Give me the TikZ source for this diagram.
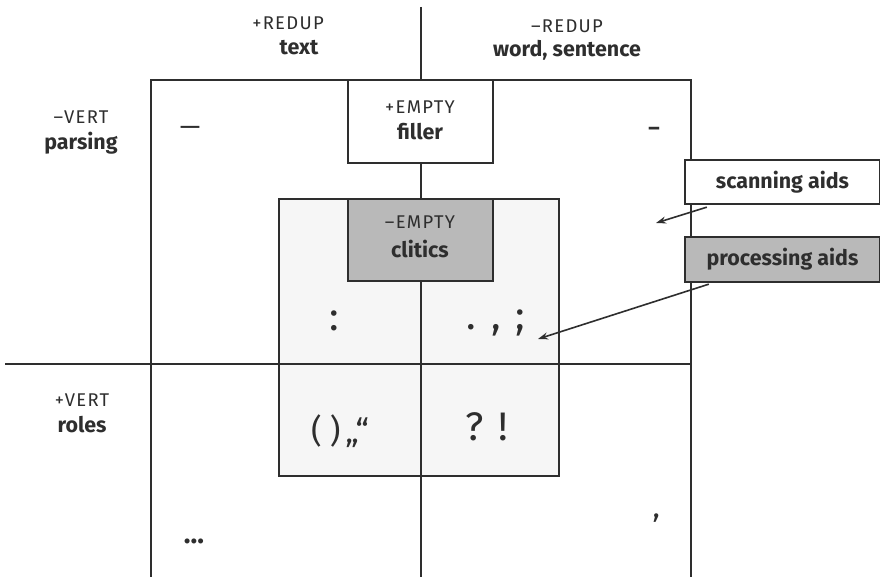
\documentclass[tikz,border=0pt]{standalone}
\usepackage{fontspec}
\setmainfont{Fira Sans}
\usetikzlibrary{arrows.meta}
\definecolor{ink}{HTML}{2E2E2E}
\definecolor{lightfill}{HTML}{F6F6F6}
\definecolor{midfill}{HTML}{B9B9B9}
\tikzset{
  feat/.style={text=ink, font=\fontsize{18.5}{20}\selectfont\addfontfeature{LetterSpace=7}, inner sep=0pt},
  lab/.style={text=ink, font=\fontsize{21.5}{23}\selectfont\bfseries, inner sep=0pt},
  punct/.style={text=ink, font=\fontsize{40}{42}\selectfont, inner sep=0pt},
  boxline/.style={draw=ink, line width=2.3bp},
  whitebox/.style={boxline, fill=white, inner sep=0pt},
  graybox/.style={boxline, fill=midfill, inner sep=0pt},
  arr/.style={draw=ink, line width=1.6bp, -{Stealth[length=10bp,width=7bp]}}
}
\begin{document}
\begin{tikzpicture}[x=1bp,y=-1bp]
\useasboundingbox[fill=white] (0,0) rectangle (880,577);
% inner light box
\node[boxline, fill=lightfill, minimum width=280bp, minimum height=277bp, inner sep=0pt] (inner) at (419,337.5) {};
% outer box (open at bottom)
\draw[boxline] (151,577) -- (151,80) -- (691,80) -- (691,577);
% axes
\coordinate (vtop) at (421,7);
\coordinate (vbot) at (421,577);
\coordinate (hleft) at (5,364);
\coordinate (hright) at (691,364);
\draw[boxline] (vtop) -- (vbot);
\draw[boxline] (hleft) -- (hright);
% boxes on the vertical axis
\node[whitebox, minimum width=145bp, minimum height=83bp] (filler) at (420.5,121.5) {};
\node[graybox, minimum width=145bp, minimum height=82bp] (clitics) at (420.5,240) {};
\node[feat] (emptyp) at (420,107) {+EMPTY};
\node[lab] (fillert) at (420,132) {filler};
\node[feat] (emptym) at (420,222) {–EMPTY};
\node[lab] (clitict) at (420,249) {clitics};
% axis labels
\node[feat] (redupp) at (288,23) {+REDUP};
\node[lab] (textt) at (299,48) {text};
\node[feat] (redupm) at (567,26) {–REDUP};
\node[lab] (words) at (567,50) {word, sentence};
\node[feat] (vertm) at (81,117) {–VERT};
\node[lab] (parsing) at (81,143) {parsing};
\node[feat] (vertp) at (82,400) {+VERT};
\node[lab] (roles) at (82,425) {roles};
% side boxes
\node[whitebox, minimum width=195bp, minimum height=44bp, font=\fontsize{21.5}{23}\selectfont\bfseries, text=ink] (scan) at (782.5,182) {scanning aids};
\node[graybox, minimum width=195bp, minimum height=45bp, font=\fontsize{21.5}{23}\selectfont\bfseries, text=ink] (proc) at (782.5,259.5) {processing aids};
% punctuation
\node[punct, font=\fontsize{26}{28}\selectfont] (emdash) at (190,131) {—};
\node[punct, font=\fontsize{22}{24}\selectfont\bfseries] (hyph) at (654,131) {–};
\node[punct] (colon) at (334,321) {:};
\node[punct] (dcs) at (496,323) {.\hspace{15bp},\hspace{15bp};};
\node[punct, font=\fontsize{33}{35}\selectfont] (paren) at (340,431) {(\hspace{8bp})\hspace{5bp}„“};
\node[punct] (qe) at (487,427) {?\hspace{15bp}!};
\node[punct, font=\fontsize{28}{30}\selectfont\bfseries] (dots) at (194,541) {...};
\node[punct, font=\fontsize{33}{35}\selectfont] (apos) at (656,526) {’};
% arrows
\coordinate (scanend) at (656,223);
\coordinate (procend) at (538,339);
\draw[arr] (scan.south west) ++(23,2) coordinate (s1) -- (scanend);
\draw[arr] (proc.south west) ++(25,1) coordinate (p1) -- (procend);
\end{tikzpicture}
\end{document}
